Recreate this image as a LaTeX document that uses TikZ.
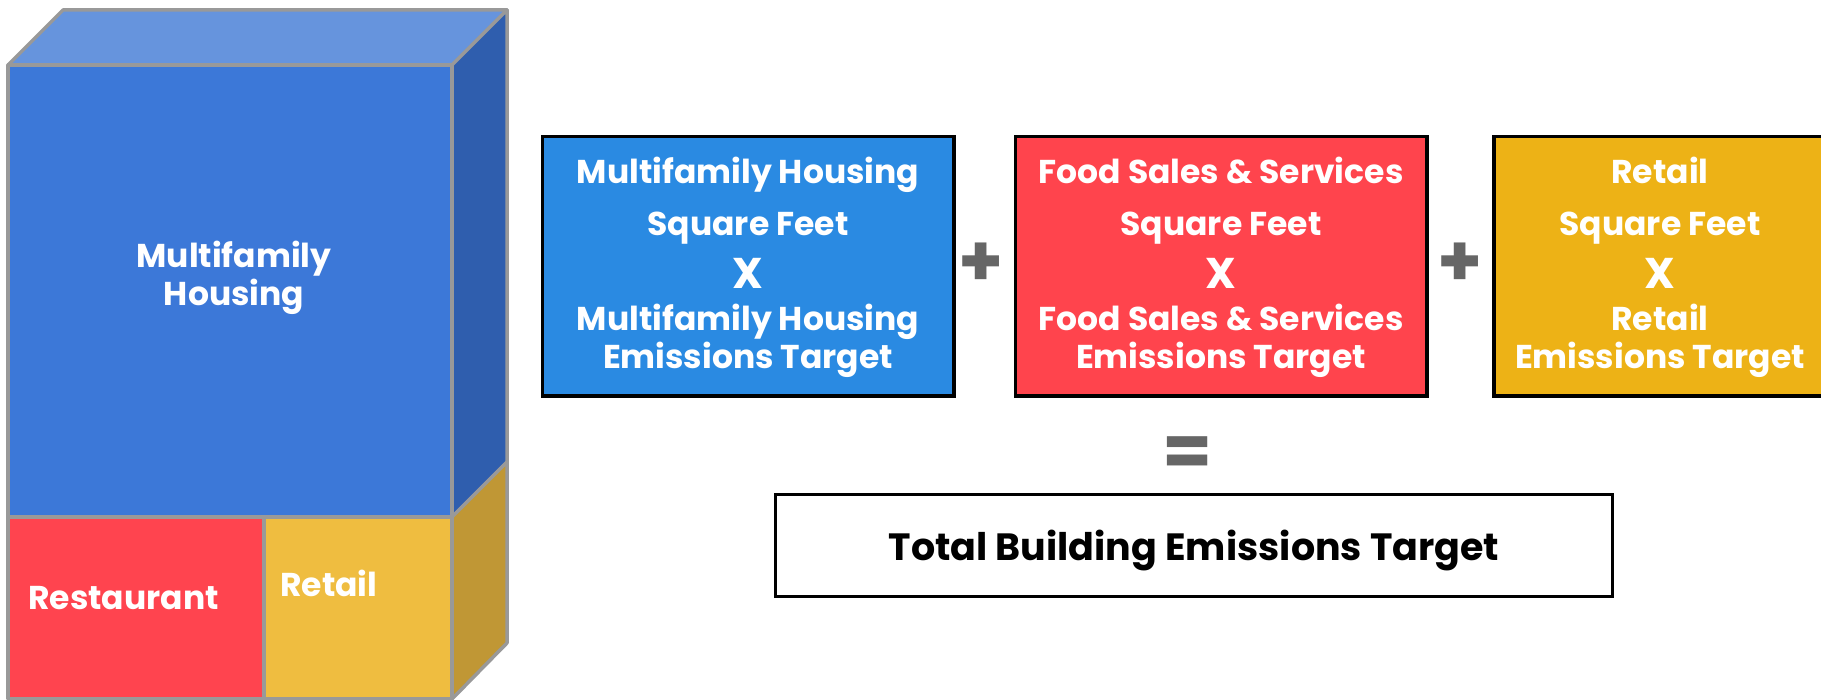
\documentclass[tikz,border=0pt]{standalone}
\usepackage{fontspec}
\setmainfont{Poppins}
\definecolor{mfblue}{HTML}{3C78D8}
\definecolor{mftop}{HTML}{6694DD}
\definecolor{mfside}{HTML}{2F5EAE}
\definecolor{restred}{HTML}{FF444F}
\definecolor{retyellow}{HTML}{EFBD40}
\definecolor{retside}{HTML}{C09735}
\definecolor{edgegray}{HTML}{999999}
\definecolor{opgray}{HTML}{666666}
\definecolor{boxblue}{HTML}{2A8AE2}
\definecolor{boxred}{HTML}{FF444D}
\definecolor{boxyellow}{HTML}{EDB216}
\begin{document}
\begin{tikzpicture}[x=1pt, y=-1pt,
    face/.style={draw=edgegray, line width=3.5pt, line join=round},
    tag/.style={text=white, inner sep=0pt, font=\fontsize{33}{38}\selectfont\bfseries},
    termbox/.style={draw=black, line width=3.5pt, inner sep=0pt},
    term/.style={tag, anchor=base},
    op/.style={text=opgray, inner sep=0pt, font=\fontsize{72}{72}\selectfont\bfseries}]
	\useasboundingbox (0,0) rectangle (1821,700);
	\clip (0,0) rectangle (1821,700);
	% building block: top and side faces, then the front split by use
	\filldraw [face, fill=mftop]   (8,65) -- (63,10) -- (507,10) -- (452,65) -- cycle;
	\filldraw [face, fill=mfside]  (452,65) -- (507,10) -- (507,462) -- (452,517) -- cycle;
	\filldraw [face, fill=retside] (452,517) -- (507,462) -- (507,643) -- (452,699) -- cycle;
	\filldraw [face, fill=mfblue]    (8,65) rectangle (452,517);
	\filldraw [face, fill=restred]   (8,517) rectangle (264,699);
	\filldraw [face, fill=retyellow] (264,517) rectangle (452,699);
	\node [tag, align=center] (housing) at (234,278) {Multifamily\\Housing};
	\node [term, anchor=base west] (restaurant) at (28,609) {Restaurant};
	\node [term, anchor=base west] (retail) at (280,596) {Retail};
	% one term per use type: square feet x target
	\foreach \cx/\bw/\fillc/\nm/\what in {748/415/boxblue/mf/Multifamily Housing,
	    1221/415/boxred/food/{Food Sales \& Services}, 1660/336/boxyellow/ret/Retail} {
	  \node [termbox, fill=\fillc, minimum width=\bw-3.5, minimum height=259.5] (\nm) at (\cx,266.5) {};
	  \node [term] (\nm-use)    at (\cx,184) {\what};
	  \node [term] (\nm-area)   at (\cx,236) {Square Feet};
	  \node [term, font=\fontsize{43}{43}\selectfont\bfseries] (\nm-times) at (\cx,289) {X};
	  \node [term] (\nm-use2)   at (\cx,331) {\what};
	  \node [term] (\nm-target) at (\cx,369) {Emissions Target};
	}
	\node [op] (plus1) at (981,265) {+};
	\node [op] (plus2) at (1460,265) {+};
	\node [op] (equals) at (1188,457) {=};
	\node [termbox, fill=white, minimum width=837, minimum height=102] (total) at (1194,545.5) {};
	\node [tag, text=black, anchor=base, font=\fontsize{38}{44}\selectfont\bfseries] (total-text)
	  at (1194,560) {Total Building Emissions Target};
\end{tikzpicture}
\end{document}
